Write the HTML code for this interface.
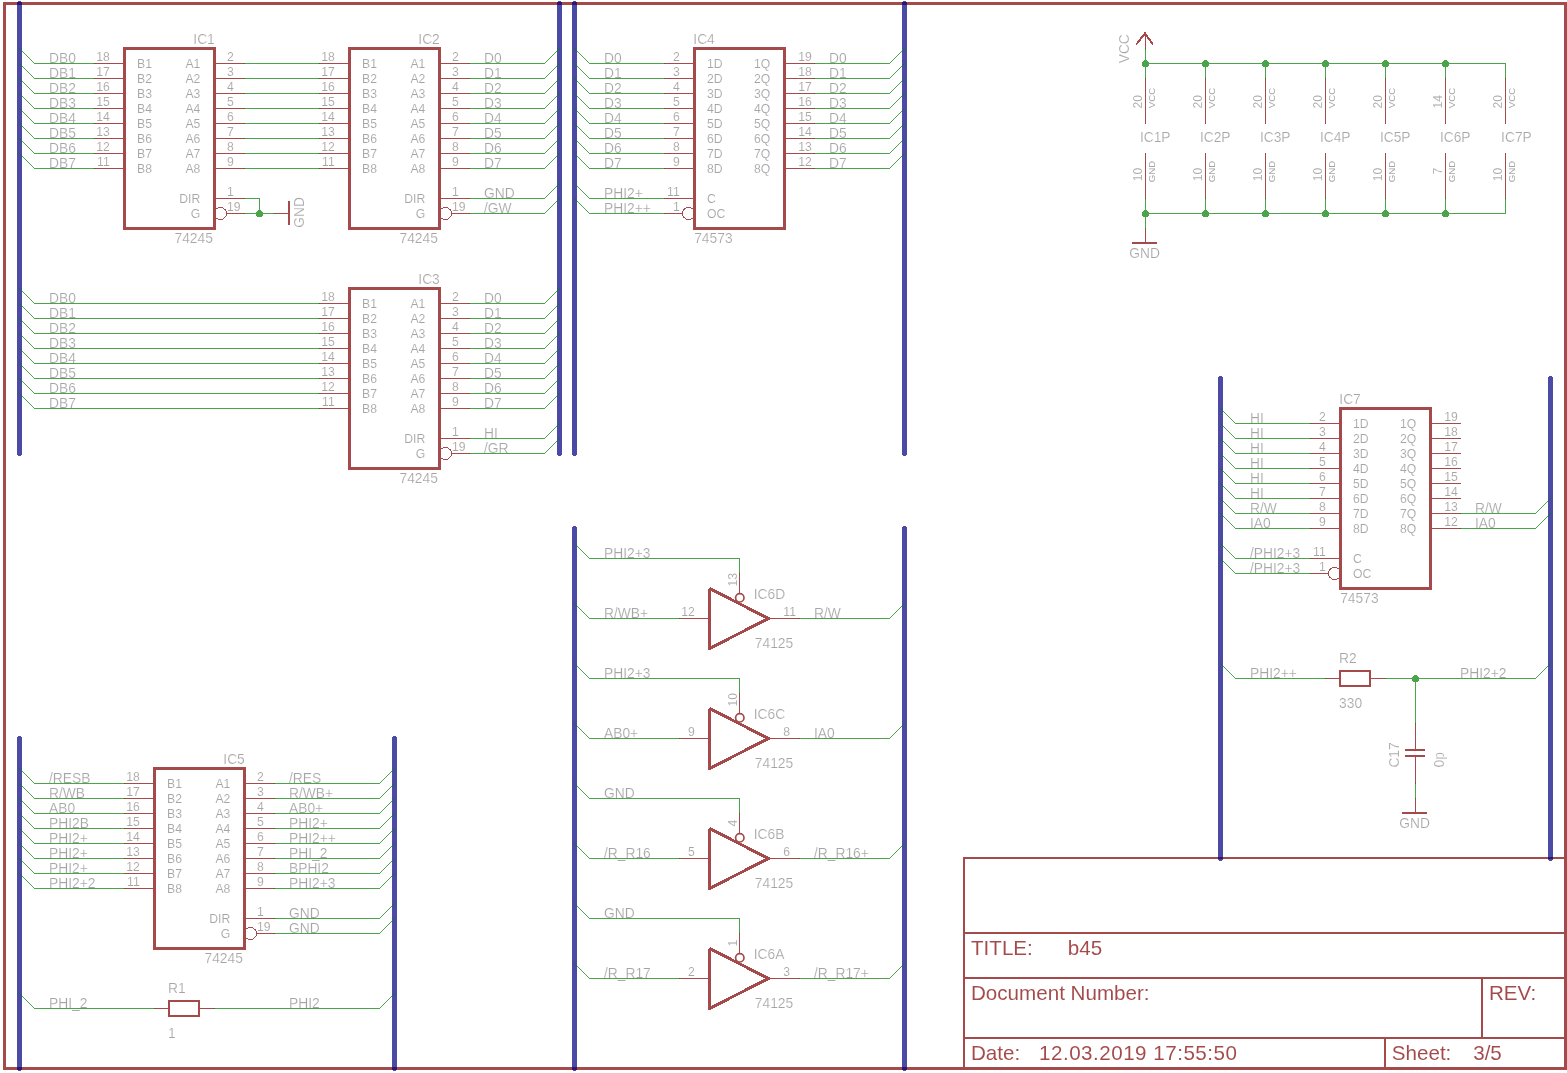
<!DOCTYPE html>
<html lang="en"><head><meta charset="utf-8"><title>b45 schematic sheet 3/5</title>
<style>
html,body{margin:0;padding:0;background:#fff}
svg{display:block}
.n,.p,.b,.s2,.s3,.s3t,.s2a,.c1,.c2{fill:none;shape-rendering:crispEdges}
.n{stroke:#008000;stroke-width:1;stroke-linecap:square}
.p{stroke:#800000;stroke-width:1;stroke-linecap:square}
.b{stroke:#000080;stroke-width:5;stroke-linecap:round}
.s2{stroke:#800000;stroke-width:2;stroke-linecap:butt}
.s2a{stroke:#800000;stroke-width:2;stroke-linecap:round;stroke-linejoin:round}
.s3{stroke:#800000;stroke-width:3}
.s3t{stroke:#800000;stroke-width:3;stroke-linejoin:round}
.c1{stroke:#800000;stroke-width:1}
.c2{stroke:#800000;stroke-width:1.7;shape-rendering:auto}
.j{fill:#008000;shape-rendering:crispEdges}
.f{fill:#800000;shape-rendering:crispEdges}
text{font-family:"Liberation Sans",Arial,sans-serif;fill:#808080}
#txt,#sym,#bus,#net{opacity:0.706}
.t14{font-size:13.8px;stroke:#fff;stroke-width:.16px;paint-order:fill stroke}.t12{font-size:12.2px;stroke:#fff;stroke-width:.1px;paint-order:fill stroke}.t10{font-size:9.7px}
.t20{font-size:20.6px;fill:#800000}
.dt{letter-spacing:.5px}
</style></head>
<body>
<svg width="1567" height="1073" viewBox="0 0 1567 1073">
<defs><filter id="ga" x="0" y="0" width="100%" height="100%" filterUnits="userSpaceOnUse" color-interpolation-filters="sRGB"><feOffset dx="0" dy="0"/></filter></defs>
<rect width="1567" height="1073" fill="#fff"/>
<g id="txt" filter="url(#ga)">
<text class="t20" x="971" y="955">TITLE:</text>
<text class="t20" x="1067.8" y="955">b45</text>
<text class="t20" x="971" y="1000.2">Document Number:</text>
<text class="t20" x="1489" y="1000.2">REV:</text>
<text class="t20" x="971" y="1059.6">Date:</text>
<text class="t20 dt" x="1039" y="1059.6">12.03.2019 17:55:50</text>
<text class="t20" x="1391.8" y="1059.6">Sheet:</text>
<text class="t20" x="1473.2" y="1059.6">3/5</text>
<text class="t12" text-anchor="end" x="109.7" y="60.8">18</text>
<text class="t12" x="227.1" y="60.8">2</text>
<text class="t12" x="137.1" y="67.8">B1</text>
<text class="t12" text-anchor="end" x="200.3" y="67.8">A1</text>
<text class="t12" text-anchor="end" x="109.7" y="75.8">17</text>
<text class="t12" x="227.1" y="75.8">3</text>
<text class="t12" x="137.1" y="82.8">B2</text>
<text class="t12" text-anchor="end" x="200.3" y="82.8">A2</text>
<text class="t12" text-anchor="end" x="109.7" y="90.8">16</text>
<text class="t12" x="227.1" y="90.8">4</text>
<text class="t12" x="137.1" y="97.8">B3</text>
<text class="t12" text-anchor="end" x="200.3" y="97.8">A3</text>
<text class="t12" text-anchor="end" x="109.7" y="105.8">15</text>
<text class="t12" x="227.1" y="105.8">5</text>
<text class="t12" x="137.1" y="112.8">B4</text>
<text class="t12" text-anchor="end" x="200.3" y="112.8">A4</text>
<text class="t12" text-anchor="end" x="109.7" y="120.8">14</text>
<text class="t12" x="227.1" y="120.8">6</text>
<text class="t12" x="137.1" y="127.8">B5</text>
<text class="t12" text-anchor="end" x="200.3" y="127.8">A5</text>
<text class="t12" text-anchor="end" x="109.7" y="135.8">13</text>
<text class="t12" x="227.1" y="135.8">7</text>
<text class="t12" x="137.1" y="142.8">B6</text>
<text class="t12" text-anchor="end" x="200.3" y="142.8">A6</text>
<text class="t12" text-anchor="end" x="109.7" y="150.8">12</text>
<text class="t12" x="227.1" y="150.8">8</text>
<text class="t12" x="137.1" y="157.8">B7</text>
<text class="t12" text-anchor="end" x="200.3" y="157.8">A7</text>
<text class="t12" text-anchor="end" x="109.7" y="165.8">11</text>
<text class="t12" x="227.1" y="165.8">9</text>
<text class="t12" x="137.1" y="172.8">B8</text>
<text class="t12" text-anchor="end" x="200.3" y="172.8">A8</text>
<text class="t12" x="227.1" y="195.8">1</text>
<text class="t12" text-anchor="end" x="200.3" y="202.8">DIR</text>
<text class="t12" x="227.1" y="210.8">19</text>
<text class="t12" text-anchor="end" x="200.3" y="217.8">G</text>
<text class="t14" text-anchor="end" x="214.8" y="43.5">IC1</text>
<text class="t14" text-anchor="end" x="212.9" y="242.8">74245</text>
<text class="t12" text-anchor="end" x="334.7" y="60.8">18</text>
<text class="t12" x="452.1" y="60.8">2</text>
<text class="t12" x="362.1" y="67.8">B1</text>
<text class="t12" text-anchor="end" x="425.3" y="67.8">A1</text>
<text class="t12" text-anchor="end" x="334.7" y="75.8">17</text>
<text class="t12" x="452.1" y="75.8">3</text>
<text class="t12" x="362.1" y="82.8">B2</text>
<text class="t12" text-anchor="end" x="425.3" y="82.8">A2</text>
<text class="t12" text-anchor="end" x="334.7" y="90.8">16</text>
<text class="t12" x="452.1" y="90.8">4</text>
<text class="t12" x="362.1" y="97.8">B3</text>
<text class="t12" text-anchor="end" x="425.3" y="97.8">A3</text>
<text class="t12" text-anchor="end" x="334.7" y="105.8">15</text>
<text class="t12" x="452.1" y="105.8">5</text>
<text class="t12" x="362.1" y="112.8">B4</text>
<text class="t12" text-anchor="end" x="425.3" y="112.8">A4</text>
<text class="t12" text-anchor="end" x="334.7" y="120.8">14</text>
<text class="t12" x="452.1" y="120.8">6</text>
<text class="t12" x="362.1" y="127.8">B5</text>
<text class="t12" text-anchor="end" x="425.3" y="127.8">A5</text>
<text class="t12" text-anchor="end" x="334.7" y="135.8">13</text>
<text class="t12" x="452.1" y="135.8">7</text>
<text class="t12" x="362.1" y="142.8">B6</text>
<text class="t12" text-anchor="end" x="425.3" y="142.8">A6</text>
<text class="t12" text-anchor="end" x="334.7" y="150.8">12</text>
<text class="t12" x="452.1" y="150.8">8</text>
<text class="t12" x="362.1" y="157.8">B7</text>
<text class="t12" text-anchor="end" x="425.3" y="157.8">A7</text>
<text class="t12" text-anchor="end" x="334.7" y="165.8">11</text>
<text class="t12" x="452.1" y="165.8">9</text>
<text class="t12" x="362.1" y="172.8">B8</text>
<text class="t12" text-anchor="end" x="425.3" y="172.8">A8</text>
<text class="t12" x="452.1" y="195.8">1</text>
<text class="t12" text-anchor="end" x="425.3" y="202.8">DIR</text>
<text class="t12" x="452.1" y="210.8">19</text>
<text class="t12" text-anchor="end" x="425.3" y="217.8">G</text>
<text class="t14" text-anchor="end" x="439.8" y="43.5">IC2</text>
<text class="t14" text-anchor="end" x="437.9" y="242.8">74245</text>
<text class="t12" text-anchor="end" x="334.7" y="300.8">18</text>
<text class="t12" x="452.1" y="300.8">2</text>
<text class="t12" x="362.1" y="307.8">B1</text>
<text class="t12" text-anchor="end" x="425.3" y="307.8">A1</text>
<text class="t12" text-anchor="end" x="334.7" y="315.8">17</text>
<text class="t12" x="452.1" y="315.8">3</text>
<text class="t12" x="362.1" y="322.8">B2</text>
<text class="t12" text-anchor="end" x="425.3" y="322.8">A2</text>
<text class="t12" text-anchor="end" x="334.7" y="330.8">16</text>
<text class="t12" x="452.1" y="330.8">4</text>
<text class="t12" x="362.1" y="337.8">B3</text>
<text class="t12" text-anchor="end" x="425.3" y="337.8">A3</text>
<text class="t12" text-anchor="end" x="334.7" y="345.8">15</text>
<text class="t12" x="452.1" y="345.8">5</text>
<text class="t12" x="362.1" y="352.8">B4</text>
<text class="t12" text-anchor="end" x="425.3" y="352.8">A4</text>
<text class="t12" text-anchor="end" x="334.7" y="360.8">14</text>
<text class="t12" x="452.1" y="360.8">6</text>
<text class="t12" x="362.1" y="367.8">B5</text>
<text class="t12" text-anchor="end" x="425.3" y="367.8">A5</text>
<text class="t12" text-anchor="end" x="334.7" y="375.8">13</text>
<text class="t12" x="452.1" y="375.8">7</text>
<text class="t12" x="362.1" y="382.8">B6</text>
<text class="t12" text-anchor="end" x="425.3" y="382.8">A6</text>
<text class="t12" text-anchor="end" x="334.7" y="390.8">12</text>
<text class="t12" x="452.1" y="390.8">8</text>
<text class="t12" x="362.1" y="397.8">B7</text>
<text class="t12" text-anchor="end" x="425.3" y="397.8">A7</text>
<text class="t12" text-anchor="end" x="334.7" y="405.8">11</text>
<text class="t12" x="452.1" y="405.8">9</text>
<text class="t12" x="362.1" y="412.8">B8</text>
<text class="t12" text-anchor="end" x="425.3" y="412.8">A8</text>
<text class="t12" x="452.1" y="435.8">1</text>
<text class="t12" text-anchor="end" x="425.3" y="442.8">DIR</text>
<text class="t12" x="452.1" y="450.8">19</text>
<text class="t12" text-anchor="end" x="425.3" y="457.8">G</text>
<text class="t14" text-anchor="end" x="439.8" y="283.5">IC3</text>
<text class="t14" text-anchor="end" x="437.9" y="482.8">74245</text>
<text class="t12" text-anchor="end" x="139.7" y="780.8">18</text>
<text class="t12" x="257.1" y="780.8">2</text>
<text class="t12" x="167.1" y="787.8">B1</text>
<text class="t12" text-anchor="end" x="230.3" y="787.8">A1</text>
<text class="t12" text-anchor="end" x="139.7" y="795.8">17</text>
<text class="t12" x="257.1" y="795.8">3</text>
<text class="t12" x="167.1" y="802.8">B2</text>
<text class="t12" text-anchor="end" x="230.3" y="802.8">A2</text>
<text class="t12" text-anchor="end" x="139.7" y="810.8">16</text>
<text class="t12" x="257.1" y="810.8">4</text>
<text class="t12" x="167.1" y="817.8">B3</text>
<text class="t12" text-anchor="end" x="230.3" y="817.8">A3</text>
<text class="t12" text-anchor="end" x="139.7" y="825.8">15</text>
<text class="t12" x="257.1" y="825.8">5</text>
<text class="t12" x="167.1" y="832.8">B4</text>
<text class="t12" text-anchor="end" x="230.3" y="832.8">A4</text>
<text class="t12" text-anchor="end" x="139.7" y="840.8">14</text>
<text class="t12" x="257.1" y="840.8">6</text>
<text class="t12" x="167.1" y="847.8">B5</text>
<text class="t12" text-anchor="end" x="230.3" y="847.8">A5</text>
<text class="t12" text-anchor="end" x="139.7" y="855.8">13</text>
<text class="t12" x="257.1" y="855.8">7</text>
<text class="t12" x="167.1" y="862.8">B6</text>
<text class="t12" text-anchor="end" x="230.3" y="862.8">A6</text>
<text class="t12" text-anchor="end" x="139.7" y="870.8">12</text>
<text class="t12" x="257.1" y="870.8">8</text>
<text class="t12" x="167.1" y="877.8">B7</text>
<text class="t12" text-anchor="end" x="230.3" y="877.8">A7</text>
<text class="t12" text-anchor="end" x="139.7" y="885.8">11</text>
<text class="t12" x="257.1" y="885.8">9</text>
<text class="t12" x="167.1" y="892.8">B8</text>
<text class="t12" text-anchor="end" x="230.3" y="892.8">A8</text>
<text class="t12" x="257.1" y="915.8">1</text>
<text class="t12" text-anchor="end" x="230.3" y="922.8">DIR</text>
<text class="t12" x="257.1" y="930.8">19</text>
<text class="t12" text-anchor="end" x="230.3" y="937.8">G</text>
<text class="t14" text-anchor="end" x="244.8" y="763.5">IC5</text>
<text class="t14" text-anchor="end" x="242.9" y="962.8">74245</text>
<text class="t14" x="49" y="62.5">DB0</text>
<text class="t14" x="484" y="62.5">D0</text>
<text class="t14" x="49" y="302.5">DB0</text>
<text class="t14" x="484" y="302.5">D0</text>
<text class="t14" x="49" y="77.5">DB1</text>
<text class="t14" x="484" y="77.5">D1</text>
<text class="t14" x="49" y="317.5">DB1</text>
<text class="t14" x="484" y="317.5">D1</text>
<text class="t14" x="49" y="92.5">DB2</text>
<text class="t14" x="484" y="92.5">D2</text>
<text class="t14" x="49" y="332.5">DB2</text>
<text class="t14" x="484" y="332.5">D2</text>
<text class="t14" x="49" y="107.5">DB3</text>
<text class="t14" x="484" y="107.5">D3</text>
<text class="t14" x="49" y="347.5">DB3</text>
<text class="t14" x="484" y="347.5">D3</text>
<text class="t14" x="49" y="122.5">DB4</text>
<text class="t14" x="484" y="122.5">D4</text>
<text class="t14" x="49" y="362.5">DB4</text>
<text class="t14" x="484" y="362.5">D4</text>
<text class="t14" x="49" y="137.5">DB5</text>
<text class="t14" x="484" y="137.5">D5</text>
<text class="t14" x="49" y="377.5">DB5</text>
<text class="t14" x="484" y="377.5">D5</text>
<text class="t14" x="49" y="152.5">DB6</text>
<text class="t14" x="484" y="152.5">D6</text>
<text class="t14" x="49" y="392.5">DB6</text>
<text class="t14" x="484" y="392.5">D6</text>
<text class="t14" x="49" y="167.5">DB7</text>
<text class="t14" x="484" y="167.5">D7</text>
<text class="t14" x="49" y="407.5">DB7</text>
<text class="t14" x="484" y="407.5">D7</text>
<text class="t14" x="484" y="197.5">GND</text>
<text class="t14" x="484" y="212.5">/GW</text>
<text class="t14" x="484" y="437.5">HI</text>
<text class="t14" x="484" y="452.5">/GR</text>
<text class="t14" transform="translate(304.1 227.8) rotate(-90)">GND</text>
<text class="t14" x="49" y="782.5">/RESB</text>
<text class="t14" x="289" y="782.5">/RES</text>
<text class="t14" x="49" y="797.5">R/WB</text>
<text class="t14" x="289" y="797.5">R/WB+</text>
<text class="t14" x="49" y="812.5">AB0</text>
<text class="t14" x="289" y="812.5">AB0+</text>
<text class="t14" x="49" y="827.5">PHI2B</text>
<text class="t14" x="289" y="827.5">PHI2+</text>
<text class="t14" x="49" y="842.5">PHI2+</text>
<text class="t14" x="289" y="842.5">PHI2++</text>
<text class="t14" x="49" y="857.5">PHI2+</text>
<text class="t14" x="289" y="857.5">PHI_2</text>
<text class="t14" x="49" y="872.5">PHI2+</text>
<text class="t14" x="289" y="872.5">BPHI2</text>
<text class="t14" x="49" y="887.5">PHI2+2</text>
<text class="t14" x="289" y="887.5">PHI2+3</text>
<text class="t14" x="289" y="917.5">GND</text>
<text class="t14" x="289" y="932.5">GND</text>
<text class="t14" x="168.1" y="993">R1</text>
<text class="t14" x="168.1" y="1038.2">1</text>
<text class="t14" x="49" y="1007.5">PHI_2</text>
<text class="t14" x="289" y="1007.5">PHI2</text>
<text class="t12" text-anchor="end" x="679.7" y="60.8">2</text>
<text class="t12" x="798.3" y="60.8">19</text>
<text class="t12" x="707.1" y="67.8">1D</text>
<text class="t12" text-anchor="end" x="770.3" y="67.8">1Q</text>
<text class="t12" text-anchor="end" x="679.7" y="75.8">3</text>
<text class="t12" x="798.3" y="75.8">18</text>
<text class="t12" x="707.1" y="82.8">2D</text>
<text class="t12" text-anchor="end" x="770.3" y="82.8">2Q</text>
<text class="t12" text-anchor="end" x="679.7" y="90.8">4</text>
<text class="t12" x="798.3" y="90.8">17</text>
<text class="t12" x="707.1" y="97.8">3D</text>
<text class="t12" text-anchor="end" x="770.3" y="97.8">3Q</text>
<text class="t12" text-anchor="end" x="679.7" y="105.8">5</text>
<text class="t12" x="798.3" y="105.8">16</text>
<text class="t12" x="707.1" y="112.8">4D</text>
<text class="t12" text-anchor="end" x="770.3" y="112.8">4Q</text>
<text class="t12" text-anchor="end" x="679.7" y="120.8">6</text>
<text class="t12" x="798.3" y="120.8">15</text>
<text class="t12" x="707.1" y="127.8">5D</text>
<text class="t12" text-anchor="end" x="770.3" y="127.8">5Q</text>
<text class="t12" text-anchor="end" x="679.7" y="135.8">7</text>
<text class="t12" x="798.3" y="135.8">14</text>
<text class="t12" x="707.1" y="142.8">6D</text>
<text class="t12" text-anchor="end" x="770.3" y="142.8">6Q</text>
<text class="t12" text-anchor="end" x="679.7" y="150.8">8</text>
<text class="t12" x="798.3" y="150.8">13</text>
<text class="t12" x="707.1" y="157.8">7D</text>
<text class="t12" text-anchor="end" x="770.3" y="157.8">7Q</text>
<text class="t12" text-anchor="end" x="679.7" y="165.8">9</text>
<text class="t12" x="798.3" y="165.8">12</text>
<text class="t12" x="707.1" y="172.8">8D</text>
<text class="t12" text-anchor="end" x="770.3" y="172.8">8Q</text>
<text class="t12" text-anchor="end" x="679.7" y="195.8">11</text>
<text class="t12" x="707.1" y="202.8">C</text>
<text class="t12" text-anchor="end" x="679.7" y="210.8">1</text>
<text class="t12" x="707.1" y="217.8">OC</text>
<text class="t14" x="693.3" y="43.5">IC4</text>
<text class="t14" x="694.2" y="242.9">74573</text>
<text class="t14" x="604" y="62.5">D0</text>
<text class="t14" x="829" y="62.5">D0</text>
<text class="t14" x="604" y="77.5">D1</text>
<text class="t14" x="829" y="77.5">D1</text>
<text class="t14" x="604" y="92.5">D2</text>
<text class="t14" x="829" y="92.5">D2</text>
<text class="t14" x="604" y="107.5">D3</text>
<text class="t14" x="829" y="107.5">D3</text>
<text class="t14" x="604" y="122.5">D4</text>
<text class="t14" x="829" y="122.5">D4</text>
<text class="t14" x="604" y="137.5">D5</text>
<text class="t14" x="829" y="137.5">D5</text>
<text class="t14" x="604" y="152.5">D6</text>
<text class="t14" x="829" y="152.5">D6</text>
<text class="t14" x="604" y="167.5">D7</text>
<text class="t14" x="829" y="167.5">D7</text>
<text class="t14" x="604" y="197.5">PHI2+</text>
<text class="t14" x="604" y="212.5">PHI2++</text>
<text class="t12" text-anchor="end" x="694.7" y="615.8">12</text>
<text class="t12" x="783.3" y="615.8">11</text>
<text class="t12" transform="translate(737.1 586.5) rotate(-90)">13</text>
<text class="t14" x="753.7" y="599.1">IC6D</text>
<text class="t14" x="754.8" y="648.2">74125</text>
<text class="t14" x="604" y="617.5">R/WB+</text>
<text class="t14" x="814" y="617.5">R/W</text>
<text class="t14" x="604" y="557.5">PHI2+3</text>
<text class="t12" text-anchor="end" x="694.7" y="735.8">9</text>
<text class="t12" x="783.3" y="735.8">8</text>
<text class="t12" transform="translate(737.1 706.5) rotate(-90)">10</text>
<text class="t14" x="753.7" y="719.1">IC6C</text>
<text class="t14" x="754.8" y="768.2">74125</text>
<text class="t14" x="604" y="737.5">AB0+</text>
<text class="t14" x="814" y="737.5">IA0</text>
<text class="t14" x="604" y="677.5">PHI2+3</text>
<text class="t12" text-anchor="end" x="694.7" y="855.8">5</text>
<text class="t12" x="783.3" y="855.8">6</text>
<text class="t12" transform="translate(737.1 826.5) rotate(-90)">4</text>
<text class="t14" x="753.7" y="839.1">IC6B</text>
<text class="t14" x="754.8" y="888.2">74125</text>
<text class="t14" x="604" y="857.5">/R_R16</text>
<text class="t14" x="814" y="857.5">/R_R16+</text>
<text class="t14" x="604" y="797.5">GND</text>
<text class="t12" text-anchor="end" x="694.7" y="975.8">2</text>
<text class="t12" x="783.3" y="975.8">3</text>
<text class="t12" transform="translate(737.1 946.5) rotate(-90)">1</text>
<text class="t14" x="753.7" y="959.1">IC6A</text>
<text class="t14" x="754.8" y="1008.2">74125</text>
<text class="t14" x="604" y="977.5">/R_R17</text>
<text class="t14" x="814" y="977.5">/R_R17+</text>
<text class="t14" x="604" y="917.5">GND</text>
<text class="t12" text-anchor="end" x="1325.7" y="420.8">2</text>
<text class="t12" x="1444.3" y="420.8">19</text>
<text class="t12" x="1353.1" y="427.8">1D</text>
<text class="t12" text-anchor="end" x="1416.3" y="427.8">1Q</text>
<text class="t12" text-anchor="end" x="1325.7" y="435.8">3</text>
<text class="t12" x="1444.3" y="435.8">18</text>
<text class="t12" x="1353.1" y="442.8">2D</text>
<text class="t12" text-anchor="end" x="1416.3" y="442.8">2Q</text>
<text class="t12" text-anchor="end" x="1325.7" y="450.8">4</text>
<text class="t12" x="1444.3" y="450.8">17</text>
<text class="t12" x="1353.1" y="457.8">3D</text>
<text class="t12" text-anchor="end" x="1416.3" y="457.8">3Q</text>
<text class="t12" text-anchor="end" x="1325.7" y="465.8">5</text>
<text class="t12" x="1444.3" y="465.8">16</text>
<text class="t12" x="1353.1" y="472.8">4D</text>
<text class="t12" text-anchor="end" x="1416.3" y="472.8">4Q</text>
<text class="t12" text-anchor="end" x="1325.7" y="480.8">6</text>
<text class="t12" x="1444.3" y="480.8">15</text>
<text class="t12" x="1353.1" y="487.8">5D</text>
<text class="t12" text-anchor="end" x="1416.3" y="487.8">5Q</text>
<text class="t12" text-anchor="end" x="1325.7" y="495.8">7</text>
<text class="t12" x="1444.3" y="495.8">14</text>
<text class="t12" x="1353.1" y="502.8">6D</text>
<text class="t12" text-anchor="end" x="1416.3" y="502.8">6Q</text>
<text class="t12" text-anchor="end" x="1325.7" y="510.8">8</text>
<text class="t12" x="1444.3" y="510.8">13</text>
<text class="t12" x="1353.1" y="517.8">7D</text>
<text class="t12" text-anchor="end" x="1416.3" y="517.8">7Q</text>
<text class="t12" text-anchor="end" x="1325.7" y="525.8">9</text>
<text class="t12" x="1444.3" y="525.8">12</text>
<text class="t12" x="1353.1" y="532.8">8D</text>
<text class="t12" text-anchor="end" x="1416.3" y="532.8">8Q</text>
<text class="t12" text-anchor="end" x="1325.7" y="555.8">11</text>
<text class="t12" x="1353.1" y="562.8">C</text>
<text class="t12" text-anchor="end" x="1325.7" y="570.8">1</text>
<text class="t12" x="1353.1" y="577.8">OC</text>
<text class="t14" x="1339.3" y="403.5">IC7</text>
<text class="t14" x="1340.2" y="602.9">74573</text>
<text class="t14" x="1250" y="422.5">HI</text>
<text class="t14" x="1250" y="437.5">HI</text>
<text class="t14" x="1250" y="452.5">HI</text>
<text class="t14" x="1250" y="467.5">HI</text>
<text class="t14" x="1250" y="482.5">HI</text>
<text class="t14" x="1250" y="497.5">HI</text>
<text class="t14" x="1250" y="512.5">R/W</text>
<text class="t14" x="1250" y="527.5">IA0</text>
<text class="t14" x="1250" y="557.5">/PHI2+3</text>
<text class="t14" x="1250" y="572.5">/PHI2+3</text>
<text class="t14" x="1475" y="512.5">R/W</text>
<text class="t14" x="1475" y="527.5">IA0</text>
<text class="t14" x="1339.1" y="663">R2</text>
<text class="t14" x="1339.1" y="708.2">330</text>
<text class="t14" x="1250" y="677.5">PHI2++</text>
<text class="t14" x="1460" y="677.5">PHI2+2</text>
<text class="t14" x="1399.3" y="827.7">GND</text>
<text class="t14" transform="translate(1399.2 767.6) rotate(-90)">C17</text>
<text class="t14" transform="translate(1443.8 767.4) rotate(-90)">0p</text>
<text class="t14" x="1139.9" y="141.7">IC1P</text>
<text class="t12" transform="translate(1142.2 108.6) rotate(-90)">20</text>
<text class="t12" text-anchor="end" transform="translate(1142.2 167.7) rotate(-90)">10</text>
<text class="t10" transform="translate(1155.4 108.2) rotate(-90)">VCC</text>
<text class="t10" transform="translate(1155.4 182.3) rotate(-90)">GND</text>
<text class="t14" x="1199.9" y="141.7">IC2P</text>
<text class="t12" transform="translate(1202.2 108.6) rotate(-90)">20</text>
<text class="t12" text-anchor="end" transform="translate(1202.2 167.7) rotate(-90)">10</text>
<text class="t10" transform="translate(1215.4 108.2) rotate(-90)">VCC</text>
<text class="t10" transform="translate(1215.4 182.3) rotate(-90)">GND</text>
<text class="t14" x="1259.9" y="141.7">IC3P</text>
<text class="t12" transform="translate(1262.2 108.6) rotate(-90)">20</text>
<text class="t12" text-anchor="end" transform="translate(1262.2 167.7) rotate(-90)">10</text>
<text class="t10" transform="translate(1275.4 108.2) rotate(-90)">VCC</text>
<text class="t10" transform="translate(1275.4 182.3) rotate(-90)">GND</text>
<text class="t14" x="1319.9" y="141.7">IC4P</text>
<text class="t12" transform="translate(1322.2 108.6) rotate(-90)">20</text>
<text class="t12" text-anchor="end" transform="translate(1322.2 167.7) rotate(-90)">10</text>
<text class="t10" transform="translate(1335.4 108.2) rotate(-90)">VCC</text>
<text class="t10" transform="translate(1335.4 182.3) rotate(-90)">GND</text>
<text class="t14" x="1379.9" y="141.7">IC5P</text>
<text class="t12" transform="translate(1382.2 108.6) rotate(-90)">20</text>
<text class="t12" text-anchor="end" transform="translate(1382.2 167.7) rotate(-90)">10</text>
<text class="t10" transform="translate(1395.4 108.2) rotate(-90)">VCC</text>
<text class="t10" transform="translate(1395.4 182.3) rotate(-90)">GND</text>
<text class="t14" x="1439.9" y="141.7">IC6P</text>
<text class="t12" transform="translate(1442.2 108.6) rotate(-90)">14</text>
<text class="t12" text-anchor="end" transform="translate(1442.2 167.7) rotate(-90)">7</text>
<text class="t10" transform="translate(1455.4 108.2) rotate(-90)">VCC</text>
<text class="t10" transform="translate(1455.4 182.3) rotate(-90)">GND</text>
<text class="t14" x="1501.1" y="141.7">IC7P</text>
<text class="t12" transform="translate(1502.2 108.6) rotate(-90)">20</text>
<text class="t12" text-anchor="end" transform="translate(1502.2 167.7) rotate(-90)">10</text>
<text class="t10" transform="translate(1515.4 108.2) rotate(-90)">VCC</text>
<text class="t10" transform="translate(1515.4 182.3) rotate(-90)">GND</text>
<text class="t14" transform="translate(1129.3 63.3) rotate(-90)">VCC</text>
<text class="t14" x="1129.3" y="257.7">GND</text>
</g>
<g id="sym">
<rect class="s3" x="4.5" y="3.5" width="1561" height="1065"/>
<path class="s2" d="M964 857L964 1068.5"/>
<path class="s2" d="M964 858L1565.5 858"/>
<path class="s2" d="M964 933L1565.5 933"/>
<path class="s2" d="M964 978L1565.5 978"/>
<path class="s2" d="M964 1038L1565.5 1038"/>
<path class="s2" d="M1385 1038.5L1385 1068.5"/>
<path class="s2" d="M1482 978.5L1482 1038.5"/>
<rect class="s3" x="124.5" y="48.5" width="90" height="180"/>
<path class="p" d="M94.5 63.5L122.5 63.5"/>
<path class="p" d="M216.5 63.5L244.5 63.5"/>
<path class="p" d="M94.5 78.5L122.5 78.5"/>
<path class="p" d="M216.5 78.5L244.5 78.5"/>
<path class="p" d="M94.5 93.5L122.5 93.5"/>
<path class="p" d="M216.5 93.5L244.5 93.5"/>
<path class="p" d="M94.5 108.5L122.5 108.5"/>
<path class="p" d="M216.5 108.5L244.5 108.5"/>
<path class="p" d="M94.5 123.5L122.5 123.5"/>
<path class="p" d="M216.5 123.5L244.5 123.5"/>
<path class="p" d="M94.5 138.5L122.5 138.5"/>
<path class="p" d="M216.5 138.5L244.5 138.5"/>
<path class="p" d="M94.5 153.5L122.5 153.5"/>
<path class="p" d="M216.5 153.5L244.5 153.5"/>
<path class="p" d="M94.5 168.5L122.5 168.5"/>
<path class="p" d="M216.5 168.5L244.5 168.5"/>
<path class="p" d="M216.5 198.5L244.5 198.5"/>
<path class="c1" d="M216.5 209.03A6 6 0 1 1 216.5 217.97"/>
<path class="p" d="M227.5 213.5L244.5 213.5"/>
<rect class="s3" x="349.5" y="48.5" width="90" height="180"/>
<path class="p" d="M319.5 63.5L347.5 63.5"/>
<path class="p" d="M441.5 63.5L469.5 63.5"/>
<path class="p" d="M319.5 78.5L347.5 78.5"/>
<path class="p" d="M441.5 78.5L469.5 78.5"/>
<path class="p" d="M319.5 93.5L347.5 93.5"/>
<path class="p" d="M441.5 93.5L469.5 93.5"/>
<path class="p" d="M319.5 108.5L347.5 108.5"/>
<path class="p" d="M441.5 108.5L469.5 108.5"/>
<path class="p" d="M319.5 123.5L347.5 123.5"/>
<path class="p" d="M441.5 123.5L469.5 123.5"/>
<path class="p" d="M319.5 138.5L347.5 138.5"/>
<path class="p" d="M441.5 138.5L469.5 138.5"/>
<path class="p" d="M319.5 153.5L347.5 153.5"/>
<path class="p" d="M441.5 153.5L469.5 153.5"/>
<path class="p" d="M319.5 168.5L347.5 168.5"/>
<path class="p" d="M441.5 168.5L469.5 168.5"/>
<path class="p" d="M441.5 198.5L469.5 198.5"/>
<path class="c1" d="M441.5 209.03A6 6 0 1 1 441.5 217.97"/>
<path class="p" d="M452.5 213.5L469.5 213.5"/>
<rect class="s3" x="349.5" y="288.5" width="90" height="180"/>
<path class="p" d="M319.5 303.5L347.5 303.5"/>
<path class="p" d="M441.5 303.5L469.5 303.5"/>
<path class="p" d="M319.5 318.5L347.5 318.5"/>
<path class="p" d="M441.5 318.5L469.5 318.5"/>
<path class="p" d="M319.5 333.5L347.5 333.5"/>
<path class="p" d="M441.5 333.5L469.5 333.5"/>
<path class="p" d="M319.5 348.5L347.5 348.5"/>
<path class="p" d="M441.5 348.5L469.5 348.5"/>
<path class="p" d="M319.5 363.5L347.5 363.5"/>
<path class="p" d="M441.5 363.5L469.5 363.5"/>
<path class="p" d="M319.5 378.5L347.5 378.5"/>
<path class="p" d="M441.5 378.5L469.5 378.5"/>
<path class="p" d="M319.5 393.5L347.5 393.5"/>
<path class="p" d="M441.5 393.5L469.5 393.5"/>
<path class="p" d="M319.5 408.5L347.5 408.5"/>
<path class="p" d="M441.5 408.5L469.5 408.5"/>
<path class="p" d="M441.5 438.5L469.5 438.5"/>
<path class="c1" d="M441.5 449.03A6 6 0 1 1 441.5 457.97"/>
<path class="p" d="M452.5 453.5L469.5 453.5"/>
<rect class="s3" x="154.5" y="768.5" width="90" height="180"/>
<path class="p" d="M124.5 783.5L152.5 783.5"/>
<path class="p" d="M246.5 783.5L274.5 783.5"/>
<path class="p" d="M124.5 798.5L152.5 798.5"/>
<path class="p" d="M246.5 798.5L274.5 798.5"/>
<path class="p" d="M124.5 813.5L152.5 813.5"/>
<path class="p" d="M246.5 813.5L274.5 813.5"/>
<path class="p" d="M124.5 828.5L152.5 828.5"/>
<path class="p" d="M246.5 828.5L274.5 828.5"/>
<path class="p" d="M124.5 843.5L152.5 843.5"/>
<path class="p" d="M246.5 843.5L274.5 843.5"/>
<path class="p" d="M124.5 858.5L152.5 858.5"/>
<path class="p" d="M246.5 858.5L274.5 858.5"/>
<path class="p" d="M124.5 873.5L152.5 873.5"/>
<path class="p" d="M246.5 873.5L274.5 873.5"/>
<path class="p" d="M124.5 888.5L152.5 888.5"/>
<path class="p" d="M246.5 888.5L274.5 888.5"/>
<path class="p" d="M246.5 918.5L274.5 918.5"/>
<path class="c1" d="M246.5 929.03A6 6 0 1 1 246.5 937.97"/>
<path class="p" d="M257.5 933.5L274.5 933.5"/>
<path class="p" d="M274.5 213.5L288.5 213.5"/>
<path class="s2" d="M289 201L289 225"/>
<rect class="s2" x="169" y="1001" width="30" height="15"/>
<path class="p" d="M154.5 1008.5L167.5 1008.5"/>
<path class="p" d="M200.5 1008.5L214.5 1008.5"/>
<rect class="s3" x="694.5" y="48.5" width="90" height="180"/>
<path class="p" d="M664.5 63.5L692.5 63.5"/>
<path class="p" d="M786.5 63.5L814.5 63.5"/>
<path class="p" d="M664.5 78.5L692.5 78.5"/>
<path class="p" d="M786.5 78.5L814.5 78.5"/>
<path class="p" d="M664.5 93.5L692.5 93.5"/>
<path class="p" d="M786.5 93.5L814.5 93.5"/>
<path class="p" d="M664.5 108.5L692.5 108.5"/>
<path class="p" d="M786.5 108.5L814.5 108.5"/>
<path class="p" d="M664.5 123.5L692.5 123.5"/>
<path class="p" d="M786.5 123.5L814.5 123.5"/>
<path class="p" d="M664.5 138.5L692.5 138.5"/>
<path class="p" d="M786.5 138.5L814.5 138.5"/>
<path class="p" d="M664.5 153.5L692.5 153.5"/>
<path class="p" d="M786.5 153.5L814.5 153.5"/>
<path class="p" d="M664.5 168.5L692.5 168.5"/>
<path class="p" d="M786.5 168.5L814.5 168.5"/>
<path class="p" d="M664.5 198.5L692.5 198.5"/>
<path class="c1" d="M692.5 209.03A6 6 0 1 0 692.5 217.97"/>
<path class="p" d="M681.5 213.5L664.5 213.5"/>
<path class="s3t" d="M709.5 588.5L768.5 618.5L709.5 648.5L709.5 588.5"/>
<path class="p" d="M679.5 618.5L707.5 618.5"/>
<path class="p" d="M770.5 618.5L799.5 618.5"/>
<path class="p" d="M739.5 573.5L739.5 593"/>
<circle class="c2" cx="739.8" cy="597.8" r="4.2"/>
<path class="s3t" d="M709.5 708.5L768.5 738.5L709.5 768.5L709.5 708.5"/>
<path class="p" d="M679.5 738.5L707.5 738.5"/>
<path class="p" d="M770.5 738.5L799.5 738.5"/>
<path class="p" d="M739.5 693.5L739.5 713"/>
<circle class="c2" cx="739.8" cy="717.8" r="4.2"/>
<path class="s3t" d="M709.5 828.5L768.5 858.5L709.5 888.5L709.5 828.5"/>
<path class="p" d="M679.5 858.5L707.5 858.5"/>
<path class="p" d="M770.5 858.5L799.5 858.5"/>
<path class="p" d="M739.5 813.5L739.5 833"/>
<circle class="c2" cx="739.8" cy="837.8" r="4.2"/>
<path class="s3t" d="M709.5 948.5L768.5 978.5L709.5 1008.5L709.5 948.5"/>
<path class="p" d="M679.5 978.5L707.5 978.5"/>
<path class="p" d="M770.5 978.5L799.5 978.5"/>
<path class="p" d="M739.5 933.5L739.5 953"/>
<circle class="c2" cx="739.8" cy="957.8" r="4.2"/>
<rect class="s3" x="1340.5" y="408.5" width="90" height="180"/>
<path class="p" d="M1310.5 423.5L1338.5 423.5"/>
<path class="p" d="M1432.5 423.5L1460.5 423.5"/>
<path class="p" d="M1310.5 438.5L1338.5 438.5"/>
<path class="p" d="M1432.5 438.5L1460.5 438.5"/>
<path class="p" d="M1310.5 453.5L1338.5 453.5"/>
<path class="p" d="M1432.5 453.5L1460.5 453.5"/>
<path class="p" d="M1310.5 468.5L1338.5 468.5"/>
<path class="p" d="M1432.5 468.5L1460.5 468.5"/>
<path class="p" d="M1310.5 483.5L1338.5 483.5"/>
<path class="p" d="M1432.5 483.5L1460.5 483.5"/>
<path class="p" d="M1310.5 498.5L1338.5 498.5"/>
<path class="p" d="M1432.5 498.5L1460.5 498.5"/>
<path class="p" d="M1310.5 513.5L1338.5 513.5"/>
<path class="p" d="M1432.5 513.5L1460.5 513.5"/>
<path class="p" d="M1310.5 528.5L1338.5 528.5"/>
<path class="p" d="M1432.5 528.5L1460.5 528.5"/>
<path class="p" d="M1310.5 558.5L1338.5 558.5"/>
<path class="c1" d="M1338.5 569.03A6 6 0 1 0 1338.5 577.97"/>
<path class="p" d="M1327.5 573.5L1310.5 573.5"/>
<rect class="s2" x="1340" y="671" width="30" height="15"/>
<path class="p" d="M1325.5 678.5L1338.5 678.5"/>
<path class="p" d="M1371.5 678.5L1385.5 678.5"/>
<path class="p" d="M1415.5 723.5L1415.5 749.5"/>
<rect class="f" x="1405" y="749" width="20" height="2"/>
<rect class="f" x="1405" y="755" width="20" height="2"/>
<path class="p" d="M1415.5 757.5L1415.5 783.5"/>
<path class="p" d="M1415.5 798.5L1415.5 812.5"/>
<path class="s2" d="M1402 813L1427 813"/>
<path class="p" d="M1145.5 78.5L1145.5 123.5"/>
<path class="p" d="M1145.5 153.5L1145.5 198.5"/>
<path class="p" d="M1205.5 78.5L1205.5 123.5"/>
<path class="p" d="M1205.5 153.5L1205.5 198.5"/>
<path class="p" d="M1265.5 78.5L1265.5 123.5"/>
<path class="p" d="M1265.5 153.5L1265.5 198.5"/>
<path class="p" d="M1325.5 78.5L1325.5 123.5"/>
<path class="p" d="M1325.5 153.5L1325.5 198.5"/>
<path class="p" d="M1385.5 78.5L1385.5 123.5"/>
<path class="p" d="M1385.5 153.5L1385.5 198.5"/>
<path class="p" d="M1445.5 78.5L1445.5 123.5"/>
<path class="p" d="M1445.5 153.5L1445.5 198.5"/>
<path class="p" d="M1505.5 78.5L1505.5 123.5"/>
<path class="p" d="M1505.5 153.5L1505.5 198.5"/>
<path class="p" d="M1145.5 48.5L1145.5 33.5"/>
<path class="s2a" d="M1136.7 43.9L1145 33.3L1152.5 43.9"/>
<path class="p" d="M1145.5 228.5L1145.5 242.5"/>
<path class="s2" d="M1132 243L1157 243"/>
</g>
<g id="bus">
<path class="b" d="M19.5 3.5L19.5 453.5"/>
<path class="b" d="M559.5 3.5L559.5 453.5"/>
<path class="b" d="M574.5 3.5L574.5 453.5"/>
<path class="b" d="M904.5 3.5L904.5 453.5"/>
<path class="b" d="M574.5 528.5L574.5 1068.5"/>
<path class="b" d="M904.5 528.5L904.5 1068.5"/>
<path class="b" d="M19.5 738.5L19.5 1068.5"/>
<path class="b" d="M394.5 738.5L394.5 1068.5"/>
<path class="b" d="M1220.5 378.5L1220.5 858.5"/>
<path class="b" d="M1550.5 378.5L1550.5 858.5"/>
</g>
<g id="net">
<path class="n" d="M19.5 48.5L34.5 63.5"/>
<path class="n" d="M34.5 63.5L94.5 63.5"/>
<path class="n" d="M244.5 63.5L319.5 63.5"/>
<path class="n" d="M469.5 63.5L544.5 63.5"/>
<path class="n" d="M544.5 63.5L559.5 48.5"/>
<path class="n" d="M19.5 288.5L34.5 303.5"/>
<path class="n" d="M34.5 303.5L319.5 303.5"/>
<path class="n" d="M469.5 303.5L544.5 303.5"/>
<path class="n" d="M544.5 303.5L559.5 288.5"/>
<path class="n" d="M19.5 63.5L34.5 78.5"/>
<path class="n" d="M34.5 78.5L94.5 78.5"/>
<path class="n" d="M244.5 78.5L319.5 78.5"/>
<path class="n" d="M469.5 78.5L544.5 78.5"/>
<path class="n" d="M544.5 78.5L559.5 63.5"/>
<path class="n" d="M19.5 303.5L34.5 318.5"/>
<path class="n" d="M34.5 318.5L319.5 318.5"/>
<path class="n" d="M469.5 318.5L544.5 318.5"/>
<path class="n" d="M544.5 318.5L559.5 303.5"/>
<path class="n" d="M19.5 78.5L34.5 93.5"/>
<path class="n" d="M34.5 93.5L94.5 93.5"/>
<path class="n" d="M244.5 93.5L319.5 93.5"/>
<path class="n" d="M469.5 93.5L544.5 93.5"/>
<path class="n" d="M544.5 93.5L559.5 78.5"/>
<path class="n" d="M19.5 318.5L34.5 333.5"/>
<path class="n" d="M34.5 333.5L319.5 333.5"/>
<path class="n" d="M469.5 333.5L544.5 333.5"/>
<path class="n" d="M544.5 333.5L559.5 318.5"/>
<path class="n" d="M19.5 93.5L34.5 108.5"/>
<path class="n" d="M34.5 108.5L94.5 108.5"/>
<path class="n" d="M244.5 108.5L319.5 108.5"/>
<path class="n" d="M469.5 108.5L544.5 108.5"/>
<path class="n" d="M544.5 108.5L559.5 93.5"/>
<path class="n" d="M19.5 333.5L34.5 348.5"/>
<path class="n" d="M34.5 348.5L319.5 348.5"/>
<path class="n" d="M469.5 348.5L544.5 348.5"/>
<path class="n" d="M544.5 348.5L559.5 333.5"/>
<path class="n" d="M19.5 108.5L34.5 123.5"/>
<path class="n" d="M34.5 123.5L94.5 123.5"/>
<path class="n" d="M244.5 123.5L319.5 123.5"/>
<path class="n" d="M469.5 123.5L544.5 123.5"/>
<path class="n" d="M544.5 123.5L559.5 108.5"/>
<path class="n" d="M19.5 348.5L34.5 363.5"/>
<path class="n" d="M34.5 363.5L319.5 363.5"/>
<path class="n" d="M469.5 363.5L544.5 363.5"/>
<path class="n" d="M544.5 363.5L559.5 348.5"/>
<path class="n" d="M19.5 123.5L34.5 138.5"/>
<path class="n" d="M34.5 138.5L94.5 138.5"/>
<path class="n" d="M244.5 138.5L319.5 138.5"/>
<path class="n" d="M469.5 138.5L544.5 138.5"/>
<path class="n" d="M544.5 138.5L559.5 123.5"/>
<path class="n" d="M19.5 363.5L34.5 378.5"/>
<path class="n" d="M34.5 378.5L319.5 378.5"/>
<path class="n" d="M469.5 378.5L544.5 378.5"/>
<path class="n" d="M544.5 378.5L559.5 363.5"/>
<path class="n" d="M19.5 138.5L34.5 153.5"/>
<path class="n" d="M34.5 153.5L94.5 153.5"/>
<path class="n" d="M244.5 153.5L319.5 153.5"/>
<path class="n" d="M469.5 153.5L544.5 153.5"/>
<path class="n" d="M544.5 153.5L559.5 138.5"/>
<path class="n" d="M19.5 378.5L34.5 393.5"/>
<path class="n" d="M34.5 393.5L319.5 393.5"/>
<path class="n" d="M469.5 393.5L544.5 393.5"/>
<path class="n" d="M544.5 393.5L559.5 378.5"/>
<path class="n" d="M19.5 153.5L34.5 168.5"/>
<path class="n" d="M34.5 168.5L94.5 168.5"/>
<path class="n" d="M244.5 168.5L319.5 168.5"/>
<path class="n" d="M469.5 168.5L544.5 168.5"/>
<path class="n" d="M544.5 168.5L559.5 153.5"/>
<path class="n" d="M19.5 393.5L34.5 408.5"/>
<path class="n" d="M34.5 408.5L319.5 408.5"/>
<path class="n" d="M469.5 408.5L544.5 408.5"/>
<path class="n" d="M544.5 408.5L559.5 393.5"/>
<path class="n" d="M469.5 198.5L544.5 198.5"/>
<path class="n" d="M544.5 198.5L559.5 183.5"/>
<path class="n" d="M469.5 213.5L544.5 213.5"/>
<path class="n" d="M544.5 213.5L559.5 198.5"/>
<path class="n" d="M469.5 438.5L544.5 438.5"/>
<path class="n" d="M544.5 438.5L559.5 423.5"/>
<path class="n" d="M469.5 453.5L544.5 453.5"/>
<path class="n" d="M544.5 453.5L559.5 438.5"/>
<path class="n" d="M244.5 198.5L259.5 198.5"/>
<path class="n" d="M259.5 198.5L259.5 213.5"/>
<path class="n" d="M244.5 213.5L274.5 213.5"/>
<circle class="j" cx="259.5" cy="213.5" r="3.5"/>
<path class="n" d="M19.5 768.5L34.5 783.5"/>
<path class="n" d="M34.5 783.5L124.5 783.5"/>
<path class="n" d="M274.5 783.5L379.5 783.5"/>
<path class="n" d="M379.5 783.5L394.5 768.5"/>
<path class="n" d="M19.5 783.5L34.5 798.5"/>
<path class="n" d="M34.5 798.5L124.5 798.5"/>
<path class="n" d="M274.5 798.5L379.5 798.5"/>
<path class="n" d="M379.5 798.5L394.5 783.5"/>
<path class="n" d="M19.5 798.5L34.5 813.5"/>
<path class="n" d="M34.5 813.5L124.5 813.5"/>
<path class="n" d="M274.5 813.5L379.5 813.5"/>
<path class="n" d="M379.5 813.5L394.5 798.5"/>
<path class="n" d="M19.5 813.5L34.5 828.5"/>
<path class="n" d="M34.5 828.5L124.5 828.5"/>
<path class="n" d="M274.5 828.5L379.5 828.5"/>
<path class="n" d="M379.5 828.5L394.5 813.5"/>
<path class="n" d="M19.5 828.5L34.5 843.5"/>
<path class="n" d="M34.5 843.5L124.5 843.5"/>
<path class="n" d="M274.5 843.5L379.5 843.5"/>
<path class="n" d="M379.5 843.5L394.5 828.5"/>
<path class="n" d="M19.5 843.5L34.5 858.5"/>
<path class="n" d="M34.5 858.5L124.5 858.5"/>
<path class="n" d="M274.5 858.5L379.5 858.5"/>
<path class="n" d="M379.5 858.5L394.5 843.5"/>
<path class="n" d="M19.5 858.5L34.5 873.5"/>
<path class="n" d="M34.5 873.5L124.5 873.5"/>
<path class="n" d="M274.5 873.5L379.5 873.5"/>
<path class="n" d="M379.5 873.5L394.5 858.5"/>
<path class="n" d="M19.5 873.5L34.5 888.5"/>
<path class="n" d="M34.5 888.5L124.5 888.5"/>
<path class="n" d="M274.5 888.5L379.5 888.5"/>
<path class="n" d="M379.5 888.5L394.5 873.5"/>
<path class="n" d="M274.5 918.5L379.5 918.5"/>
<path class="n" d="M379.5 918.5L394.5 903.5"/>
<path class="n" d="M274.5 933.5L379.5 933.5"/>
<path class="n" d="M379.5 933.5L394.5 918.5"/>
<path class="n" d="M19.5 993.5L34.5 1008.5"/>
<path class="n" d="M34.5 1008.5L154.5 1008.5"/>
<path class="n" d="M214.5 1008.5L379.5 1008.5"/>
<path class="n" d="M379.5 1008.5L394.5 993.5"/>
<path class="n" d="M574.5 48.5L589.5 63.5"/>
<path class="n" d="M589.5 63.5L664.5 63.5"/>
<path class="n" d="M814.5 63.5L889.5 63.5"/>
<path class="n" d="M889.5 63.5L904.5 48.5"/>
<path class="n" d="M574.5 63.5L589.5 78.5"/>
<path class="n" d="M589.5 78.5L664.5 78.5"/>
<path class="n" d="M814.5 78.5L889.5 78.5"/>
<path class="n" d="M889.5 78.5L904.5 63.5"/>
<path class="n" d="M574.5 78.5L589.5 93.5"/>
<path class="n" d="M589.5 93.5L664.5 93.5"/>
<path class="n" d="M814.5 93.5L889.5 93.5"/>
<path class="n" d="M889.5 93.5L904.5 78.5"/>
<path class="n" d="M574.5 93.5L589.5 108.5"/>
<path class="n" d="M589.5 108.5L664.5 108.5"/>
<path class="n" d="M814.5 108.5L889.5 108.5"/>
<path class="n" d="M889.5 108.5L904.5 93.5"/>
<path class="n" d="M574.5 108.5L589.5 123.5"/>
<path class="n" d="M589.5 123.5L664.5 123.5"/>
<path class="n" d="M814.5 123.5L889.5 123.5"/>
<path class="n" d="M889.5 123.5L904.5 108.5"/>
<path class="n" d="M574.5 123.5L589.5 138.5"/>
<path class="n" d="M589.5 138.5L664.5 138.5"/>
<path class="n" d="M814.5 138.5L889.5 138.5"/>
<path class="n" d="M889.5 138.5L904.5 123.5"/>
<path class="n" d="M574.5 138.5L589.5 153.5"/>
<path class="n" d="M589.5 153.5L664.5 153.5"/>
<path class="n" d="M814.5 153.5L889.5 153.5"/>
<path class="n" d="M889.5 153.5L904.5 138.5"/>
<path class="n" d="M574.5 153.5L589.5 168.5"/>
<path class="n" d="M589.5 168.5L664.5 168.5"/>
<path class="n" d="M814.5 168.5L889.5 168.5"/>
<path class="n" d="M889.5 168.5L904.5 153.5"/>
<path class="n" d="M574.5 183.5L589.5 198.5"/>
<path class="n" d="M589.5 198.5L664.5 198.5"/>
<path class="n" d="M574.5 198.5L589.5 213.5"/>
<path class="n" d="M589.5 213.5L664.5 213.5"/>
<path class="n" d="M574.5 603.5L589.5 618.5"/>
<path class="n" d="M589.5 618.5L679.5 618.5"/>
<path class="n" d="M799.5 618.5L889.5 618.5"/>
<path class="n" d="M889.5 618.5L904.5 603.5"/>
<path class="n" d="M574.5 543.5L589.5 558.5"/>
<path class="n" d="M589.5 558.5L739.5 558.5"/>
<path class="n" d="M739.5 558.5L739.5 573.5"/>
<path class="n" d="M574.5 723.5L589.5 738.5"/>
<path class="n" d="M589.5 738.5L679.5 738.5"/>
<path class="n" d="M799.5 738.5L889.5 738.5"/>
<path class="n" d="M889.5 738.5L904.5 723.5"/>
<path class="n" d="M574.5 663.5L589.5 678.5"/>
<path class="n" d="M589.5 678.5L739.5 678.5"/>
<path class="n" d="M739.5 678.5L739.5 693.5"/>
<path class="n" d="M574.5 843.5L589.5 858.5"/>
<path class="n" d="M589.5 858.5L679.5 858.5"/>
<path class="n" d="M799.5 858.5L889.5 858.5"/>
<path class="n" d="M889.5 858.5L904.5 843.5"/>
<path class="n" d="M574.5 783.5L589.5 798.5"/>
<path class="n" d="M589.5 798.5L739.5 798.5"/>
<path class="n" d="M739.5 798.5L739.5 813.5"/>
<path class="n" d="M574.5 963.5L589.5 978.5"/>
<path class="n" d="M589.5 978.5L679.5 978.5"/>
<path class="n" d="M799.5 978.5L889.5 978.5"/>
<path class="n" d="M889.5 978.5L904.5 963.5"/>
<path class="n" d="M574.5 903.5L589.5 918.5"/>
<path class="n" d="M589.5 918.5L739.5 918.5"/>
<path class="n" d="M739.5 918.5L739.5 933.5"/>
<path class="n" d="M1220.5 408.5L1235.5 423.5"/>
<path class="n" d="M1235.5 423.5L1310.5 423.5"/>
<path class="n" d="M1220.5 423.5L1235.5 438.5"/>
<path class="n" d="M1235.5 438.5L1310.5 438.5"/>
<path class="n" d="M1220.5 438.5L1235.5 453.5"/>
<path class="n" d="M1235.5 453.5L1310.5 453.5"/>
<path class="n" d="M1220.5 453.5L1235.5 468.5"/>
<path class="n" d="M1235.5 468.5L1310.5 468.5"/>
<path class="n" d="M1220.5 468.5L1235.5 483.5"/>
<path class="n" d="M1235.5 483.5L1310.5 483.5"/>
<path class="n" d="M1220.5 483.5L1235.5 498.5"/>
<path class="n" d="M1235.5 498.5L1310.5 498.5"/>
<path class="n" d="M1220.5 498.5L1235.5 513.5"/>
<path class="n" d="M1235.5 513.5L1310.5 513.5"/>
<path class="n" d="M1220.5 513.5L1235.5 528.5"/>
<path class="n" d="M1235.5 528.5L1310.5 528.5"/>
<path class="n" d="M1220.5 543.5L1235.5 558.5"/>
<path class="n" d="M1235.5 558.5L1310.5 558.5"/>
<path class="n" d="M1220.5 558.5L1235.5 573.5"/>
<path class="n" d="M1235.5 573.5L1310.5 573.5"/>
<path class="n" d="M1460.5 513.5L1535.5 513.5"/>
<path class="n" d="M1535.5 513.5L1550.5 498.5"/>
<path class="n" d="M1460.5 528.5L1535.5 528.5"/>
<path class="n" d="M1535.5 528.5L1550.5 513.5"/>
<path class="n" d="M1220.5 663.5L1235.5 678.5"/>
<path class="n" d="M1235.5 678.5L1325.5 678.5"/>
<path class="n" d="M1385.5 678.5L1535.5 678.5"/>
<path class="n" d="M1535.5 678.5L1550.5 663.5"/>
<circle class="j" cx="1415.5" cy="678.5" r="3.5"/>
<path class="n" d="M1415.5 678.5L1415.5 723.5"/>
<path class="n" d="M1415.5 783.5L1415.5 798.5"/>
<path class="n" d="M1145.5 63.5L1505.5 63.5"/>
<path class="n" d="M1145.5 213.5L1505.5 213.5"/>
<path class="n" d="M1145.5 63.5L1145.5 78.5"/>
<path class="n" d="M1145.5 198.5L1145.5 213.5"/>
<circle class="j" cx="1145.5" cy="63.5" r="3.5"/>
<circle class="j" cx="1145.5" cy="213.5" r="3.5"/>
<path class="n" d="M1205.5 63.5L1205.5 78.5"/>
<path class="n" d="M1205.5 198.5L1205.5 213.5"/>
<circle class="j" cx="1205.5" cy="63.5" r="3.5"/>
<circle class="j" cx="1205.5" cy="213.5" r="3.5"/>
<path class="n" d="M1265.5 63.5L1265.5 78.5"/>
<path class="n" d="M1265.5 198.5L1265.5 213.5"/>
<circle class="j" cx="1265.5" cy="63.5" r="3.5"/>
<circle class="j" cx="1265.5" cy="213.5" r="3.5"/>
<path class="n" d="M1325.5 63.5L1325.5 78.5"/>
<path class="n" d="M1325.5 198.5L1325.5 213.5"/>
<circle class="j" cx="1325.5" cy="63.5" r="3.5"/>
<circle class="j" cx="1325.5" cy="213.5" r="3.5"/>
<path class="n" d="M1385.5 63.5L1385.5 78.5"/>
<path class="n" d="M1385.5 198.5L1385.5 213.5"/>
<circle class="j" cx="1385.5" cy="63.5" r="3.5"/>
<circle class="j" cx="1385.5" cy="213.5" r="3.5"/>
<path class="n" d="M1445.5 63.5L1445.5 78.5"/>
<path class="n" d="M1445.5 198.5L1445.5 213.5"/>
<circle class="j" cx="1445.5" cy="63.5" r="3.5"/>
<circle class="j" cx="1445.5" cy="213.5" r="3.5"/>
<path class="n" d="M1505.5 63.5L1505.5 78.5"/>
<path class="n" d="M1505.5 198.5L1505.5 213.5"/>
<path class="n" d="M1145.5 63.5L1145.5 48.5"/>
<path class="n" d="M1145.5 213.5L1145.5 228.5"/>
</g>
</svg>
</body></html>
